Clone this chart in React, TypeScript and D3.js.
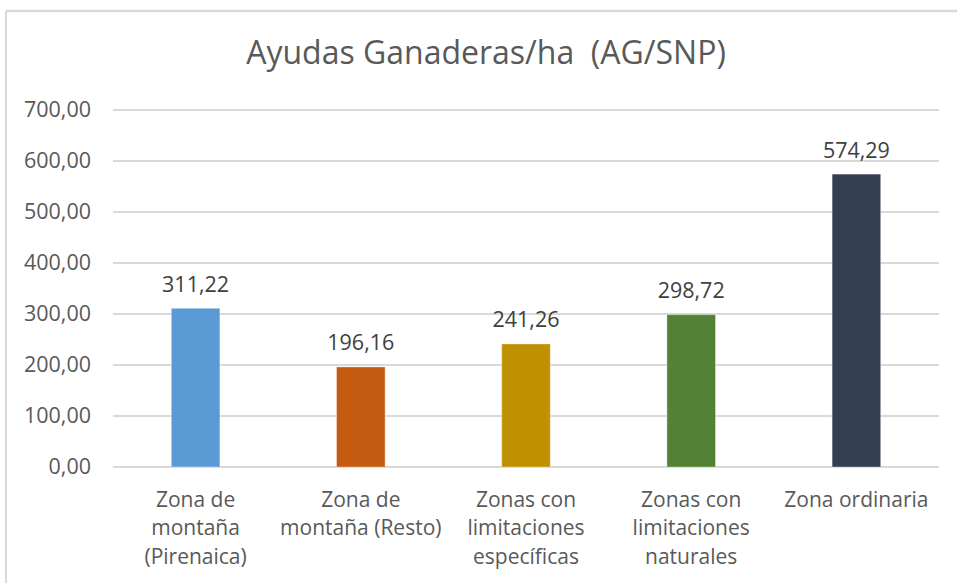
import React from "react";
import * as d3 from "d3";

const title = "Ayudas Ganaderas/ha  (AG/SNP)";
const categories = [
  "Zona de montaña (Pirenaica)",
  "Zona de montaña (Resto)",
  "Zonas con limitaciones específicas",
  "Zonas con limitaciones naturales",
  "Zona ordinaria",
];
const categoryLines = [
  ["Zona de", "montaña", "(Pirenaica)"],
  ["Zona de", "montaña (Resto)"],
  ["Zonas con", "limitaciones", "específicas"],
  ["Zonas con", "limitaciones", "naturales"],
  ["Zona ordinaria"],
];
const values = [311.22, 196.16, 241.26, 298.72, 574.29];
const colors = ["#5B9BD5", "#C55A11", "#BF9000", "#538135", "#333F50"];
const yTicks = [0, 100, 200, 300, 400, 500, 600, 700];

const W = 957;
const H = 583;
const FONT = "'Open Sans', 'Noto Sans', sans-serif";

const fmt = (v: number) => v.toFixed(2).replace(".", ",");

export default function App() {
  const x = d3
    .scaleBand<string>()
    .domain(categories)
    .range([113, 939])
    .paddingInner(0.706)
    .paddingOuter(0.353);
  const y = d3.scaleLinear().domain([0, 700]).range([467, 110]);

  return (
    <svg
      width={W}
      height={H}
      style={{ position: "absolute", left: 0, top: 0, background: "#fff" }}
      fontFamily={FONT}
    >
      <rect x={0} y={0} width={W} height={H} fill="#ffffff" />
      {/* chart frame */}
      <line x1={6} y1={11} x2={W} y2={11} stroke="#D9D9D9" strokeWidth={2.5} />
      <line x1={6} y1={11} x2={6} y2={H} stroke="#D9D9D9" strokeWidth={2} />

      <text
        x={486}
        y={64}
        textAnchor="middle"
        fontSize={32}
        fill="#595959"
        style={{ whiteSpace: "pre" }}
      >
        {title}
      </text>

      {/* gridlines */}
      {yTicks.map((t) => (
        <line
          key={"g" + t}
          x1={113}
          x2={939}
          y1={y(t)}
          y2={y(t)}
          stroke="#D9D9D9"
          strokeWidth={2}
        />
      ))}

      {/* y tick labels */}
      {yTicks.map((t) => (
        <text
          key={"t" + t}
          x={91}
          y={y(t) + 7}
          textAnchor="end"
          fontSize={21.5}
          fill="#595959"
        >
          {fmt(t)}
        </text>
      ))}

      {/* bars */}
      {categories.map((c, i) => (
        <rect
          key={"b" + c}
          x={x(c)}
          y={y(values[i])}
          width={x.bandwidth()}
          height={y(0) - y(values[i])}
          fill={colors[i]}
          stroke="#ffffff"
          strokeOpacity={0.35}
          strokeWidth={1}
        />
      ))}

      {/* value labels */}
      {categories.map((c, i) => (
        <text
          key={"v" + c}
          x={(x(c) as number) + x.bandwidth() / 2}
          y={y(values[i]) - 16.5}
          textAnchor="middle"
          fontSize={21.5}
          fill="#404040"
        >
          {fmt(values[i])}
        </text>
      ))}

      {/* category labels */}
      {categories.map((c, i) => (
        <text
          key={"c" + c}
          x={(x(c) as number) + x.bandwidth() / 2}
          y={506.7}
          textAnchor="middle"
          fontSize={21}
          fill="#595959"
        >
          {categoryLines[i].map((ln, j) => (
            <tspan key={j} x={(x(c) as number) + x.bandwidth() / 2} dy={j === 0 ? 0 : 28.7}>
              {ln}
            </tspan>
          ))}
        </text>
      ))}
    </svg>
  );
}
